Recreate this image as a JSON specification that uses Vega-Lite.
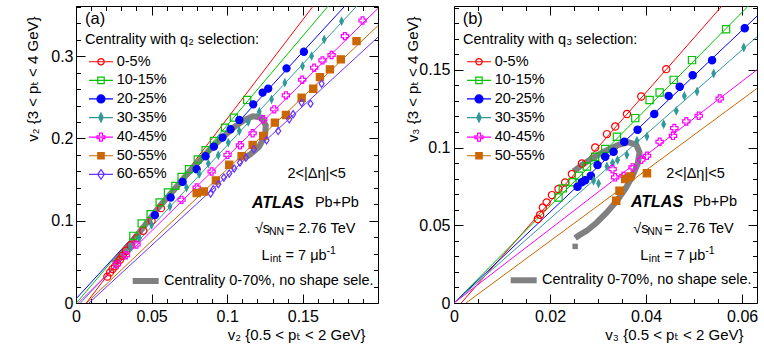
{
  "$schema": "https://vega.github.io/schema/vega-lite/v6.json",
  "background": "white",
  "padding": {"left": 24, "top": 5, "right": 2, "bottom": 2},
  "config": {
    "font": "Liberation Sans",
    "view": {"stroke": "black", "strokeWidth": 1},
    "axis": {"domain": false, "grid": false, "labelFont": "Liberation Sans", "labelFontSize": 16, "labelColor": "black", "tickColor": "black", "tickWidth": 1, "titleFont": "Liberation Sans, DejaVu Sans", "titleFontWeight": "normal", "titleFontSize": 15, "titleColor": "black", "labelFlush": false, "labelOverlap": false},
    "legend": {"labelFont": "Liberation Sans", "titleFont": "Liberation Sans, DejaVu Sans", "labelColor": "black", "titleColor": "black", "titleFontWeight": "normal", "labelLimit": 0, "titleLimit": 0}
  },
  "datasets": {
    "la": [
      {"c": "0-5%", "x": 0.0068, "y": 0}, {"c": "0-5%", "x": 0.1569, "y": 0.361},
      {"c": "10-15%", "x": 0.0003, "y": 0}, {"c": "10-15%", "x": 0.1668, "y": 0.361},
      {"c": "20-25%", "x": 0, "y": 0.005}, {"c": "20-25%", "x": 0.1778, "y": 0.361},
      {"c": "30-35%", "x": 0.003, "y": 0}, {"c": "30-35%", "x": 0.1857, "y": 0.361},
      {"c": "40-45%", "x": 0.0015, "y": 0}, {"c": "40-45%", "x": 0.1996, "y": 0.358},
      {"c": "50-55%", "x": 0.007, "y": 0}, {"c": "50-55%", "x": 0.1996, "y": 0.337},
      {"c": "60-65%", "x": 0.0086, "y": 0}, {"c": "60-65%", "x": 0.1996, "y": 0.323}
    ],
    "pa": [
      {"c": "0-5%", "x": 0.0207, "y": 0.032}, {"c": "0-5%", "x": 0.0225, "y": 0.0372}, {"c": "0-5%", "x": 0.0242, "y": 0.0413}, {"c": "0-5%", "x": 0.0258, "y": 0.0445}, {"c": "0-5%", "x": 0.0273, "y": 0.0481}, {"c": "0-5%", "x": 0.0291, "y": 0.0526}, {"c": "0-5%", "x": 0.0308, "y": 0.0574}, {"c": "0-5%", "x": 0.033, "y": 0.0635}, {"c": "0-5%", "x": 0.0361, "y": 0.0704}, {"c": "0-5%", "x": 0.0401, "y": 0.0789}, {"c": "0-5%", "x": 0.0445, "y": 0.0878}, {"c": "0-5%", "x": 0.05, "y": 0.0999}, {"c": "0-5%", "x": 0.0562, "y": 0.1153},
      {"c": "10-15%", "x": 0.0379, "y": 0.0817}, {"c": "10-15%", "x": 0.0434, "y": 0.0967}, {"c": "10-15%", "x": 0.0493, "y": 0.108}, {"c": "10-15%", "x": 0.0553, "y": 0.1222}, {"c": "10-15%", "x": 0.0608, "y": 0.1343}, {"c": "10-15%", "x": 0.0657, "y": 0.1424}, {"c": "10-15%", "x": 0.0698, "y": 0.1533}, {"c": "10-15%", "x": 0.0747, "y": 0.1626}, {"c": "10-15%", "x": 0.0805, "y": 0.1745}, {"c": "10-15%", "x": 0.0857, "y": 0.1857}, {"c": "10-15%", "x": 0.0912, "y": 0.197}, {"c": "10-15%", "x": 0.0985, "y": 0.2132}, {"c": "10-15%", "x": 0.1044, "y": 0.2253}, {"c": "10-15%", "x": 0.1132, "y": 0.2468},
      {"c": "20-25%", "x": 0.0522, "y": 0.1068}, {"c": "20-25%", "x": 0.0626, "y": 0.1282}, {"c": "20-25%", "x": 0.0705, "y": 0.1472}, {"c": "20-25%", "x": 0.0798, "y": 0.1626}, {"c": "20-25%", "x": 0.0857, "y": 0.1784}, {"c": "20-25%", "x": 0.0912, "y": 0.1901}, {"c": "20-25%", "x": 0.0969, "y": 0.2011}, {"c": "20-25%", "x": 0.1022, "y": 0.2112}, {"c": "20-25%", "x": 0.108, "y": 0.2225}, {"c": "20-25%", "x": 0.1172, "y": 0.2415}, {"c": "20-25%", "x": 0.1234, "y": 0.2557}, {"c": "20-25%", "x": 0.1271, "y": 0.2605}, {"c": "20-25%", "x": 0.1392, "y": 0.2852}, {"c": "20-25%", "x": 0.1507, "y": 0.3054},
      {"c": "30-35%", "x": 0.036, "y": 0.067}, {"c": "30-35%", "x": 0.042, "y": 0.079}, {"c": "30-35%", "x": 0.05, "y": 0.095}, {"c": "30-35%", "x": 0.0621, "y": 0.1173}, {"c": "30-35%", "x": 0.0731, "y": 0.1404}, {"c": "30-35%", "x": 0.0815, "y": 0.1566}, {"c": "30-35%", "x": 0.0875, "y": 0.1695}, {"c": "30-35%", "x": 0.0941, "y": 0.1796}, {"c": "30-35%", "x": 0.1007, "y": 0.195}, {"c": "30-35%", "x": 0.108, "y": 0.2091}, {"c": "30-35%", "x": 0.1139, "y": 0.2201}, {"c": "30-35%", "x": 0.1212, "y": 0.2326}, {"c": "30-35%", "x": 0.1293, "y": 0.2476}, {"c": "30-35%", "x": 0.1381, "y": 0.2678}, {"c": "30-35%", "x": 0.1498, "y": 0.288}, {"c": "30-35%", "x": 0.1558, "y": 0.3001}, {"c": "30-35%", "x": 0.1641, "y": 0.3204}, {"c": "30-35%", "x": 0.1756, "y": 0.3426},
      {"c": "40-45%", "x": 0.027, "y": 0.047}, {"c": "40-45%", "x": 0.033, "y": 0.058}, {"c": "40-45%", "x": 0.04, "y": 0.071}, {"c": "40-45%", "x": 0.0698, "y": 0.1254}, {"c": "40-45%", "x": 0.0798, "y": 0.1404}, {"c": "40-45%", "x": 0.0897, "y": 0.1598}, {"c": "40-45%", "x": 0.1002, "y": 0.18}, {"c": "40-45%", "x": 0.1084, "y": 0.1917}, {"c": "40-45%", "x": 0.1168, "y": 0.2063}, {"c": "40-45%", "x": 0.1238, "y": 0.2233}, {"c": "40-45%", "x": 0.1311, "y": 0.2354}, {"c": "40-45%", "x": 0.1388, "y": 0.2524}, {"c": "40-45%", "x": 0.1496, "y": 0.2714}, {"c": "40-45%", "x": 0.1575, "y": 0.286}, {"c": "40-45%", "x": 0.163, "y": 0.2949}, {"c": "40-45%", "x": 0.169, "y": 0.3014}, {"c": "40-45%", "x": 0.1778, "y": 0.3244}, {"c": "40-45%", "x": 0.1895, "y": 0.3434},
      {"c": "50-55%", "x": 0.0798, "y": 0.1335}, {"c": "50-55%", "x": 0.0845, "y": 0.1355}, {"c": "50-55%", "x": 0.0925, "y": 0.149}, {"c": "50-55%", "x": 0.1013, "y": 0.168}, {"c": "50-55%", "x": 0.1095, "y": 0.1784}, {"c": "50-55%", "x": 0.1168, "y": 0.1922}, {"c": "50-55%", "x": 0.1238, "y": 0.2031}, {"c": "50-55%", "x": 0.1315, "y": 0.2192}, {"c": "50-55%", "x": 0.1388, "y": 0.2285}, {"c": "50-55%", "x": 0.1492, "y": 0.2495}, {"c": "50-55%", "x": 0.1569, "y": 0.2604}, {"c": "50-55%", "x": 0.1613, "y": 0.2746}, {"c": "50-55%", "x": 0.1679, "y": 0.284}, {"c": "50-55%", "x": 0.1751, "y": 0.2961}, {"c": "50-55%", "x": 0.1855, "y": 0.3183},
      {"c": "60-65%", "x": 0.089, "y": 0.1331}, {"c": "60-65%", "x": 0.0908, "y": 0.1383}, {"c": "60-65%", "x": 0.0941, "y": 0.1444}, {"c": "60-65%", "x": 0.0978, "y": 0.1525}, {"c": "60-65%", "x": 0.1013, "y": 0.1574}, {"c": "60-65%", "x": 0.1046, "y": 0.1634}, {"c": "60-65%", "x": 0.1084, "y": 0.1707}, {"c": "60-65%", "x": 0.1124, "y": 0.1768}, {"c": "60-65%", "x": 0.1176, "y": 0.1869}, {"c": "60-65%", "x": 0.126, "y": 0.1978}, {"c": "60-65%", "x": 0.1337, "y": 0.2091}, {"c": "60-65%", "x": 0.141, "y": 0.2233}, {"c": "60-65%", "x": 0.1436, "y": 0.2294}, {"c": "60-65%", "x": 0.1492, "y": 0.2435}, {"c": "60-65%", "x": 0.1551, "y": 0.2423}, {"c": "60-65%", "x": 0.1624, "y": 0.2666}
    ],
    "ga": [
      {"g": "Centrality 0-70%, no shape sele.", "o": 1, "x": 0.025, "y": 0.048}, {"g": "Centrality 0-70%, no shape sele.", "o": 2, "x": 0.035, "y": 0.07}, {"g": "Centrality 0-70%, no shape sele.", "o": 3, "x": 0.045, "y": 0.093}, {"g": "Centrality 0-70%, no shape sele.", "o": 4, "x": 0.055, "y": 0.117}, {"g": "Centrality 0-70%, no shape sele.", "o": 5, "x": 0.065, "y": 0.138}, {"g": "Centrality 0-70%, no shape sele.", "o": 6, "x": 0.075, "y": 0.16}, {"g": "Centrality 0-70%, no shape sele.", "o": 7, "x": 0.085, "y": 0.18}, {"g": "Centrality 0-70%, no shape sele.", "o": 8, "x": 0.095, "y": 0.198}, {"g": "Centrality 0-70%, no shape sele.", "o": 9, "x": 0.104, "y": 0.213}, {"g": "Centrality 0-70%, no shape sele.", "o": 10, "x": 0.111, "y": 0.222}, {"g": "Centrality 0-70%, no shape sele.", "o": 11, "x": 0.117, "y": 0.227}, {"g": "Centrality 0-70%, no shape sele.", "o": 12, "x": 0.1225, "y": 0.2255}, {"g": "Centrality 0-70%, no shape sele.", "o": 13, "x": 0.1255, "y": 0.216}, {"g": "Centrality 0-70%, no shape sele.", "o": 14, "x": 0.125, "y": 0.203}, {"g": "Centrality 0-70%, no shape sele.", "o": 15, "x": 0.121, "y": 0.19}, {"g": "Centrality 0-70%, no shape sele.", "o": 16, "x": 0.1155, "y": 0.181}, {"g": "Centrality 0-70%, no shape sele.", "o": 17, "x": 0.112, "y": 0.177}
    ],
    "lb": [
      {"c": "0-5%", "x": 0.0015, "y": 0}, {"c": "0-5%", "x": 0.0558, "y": 0.191},
      {"c": "10-15%", "x": 0, "y": 0}, {"c": "10-15%", "x": 0.0613, "y": 0.191},
      {"c": "20-25%", "x": 0, "y": 0}, {"c": "20-25%", "x": 0.0631, "y": 0.1845},
      {"c": "30-35%", "x": 0, "y": 0}, {"c": "30-35%", "x": 0.0631, "y": 0.1712},
      {"c": "40-45%", "x": 0, "y": 0}, {"c": "40-45%", "x": 0.0631, "y": 0.15},
      {"c": "50-55%", "x": 0.0025, "y": 0}, {"c": "50-55%", "x": 0.0631, "y": 0.138}
    ],
    "pb": [
      {"c": "0-5%", "x": 0.01746, "y": 0.054}, {"c": "0-5%", "x": 0.01794, "y": 0.0567}, {"c": "0-5%", "x": 0.0185, "y": 0.0614}, {"c": "0-5%", "x": 0.0193, "y": 0.0647}, {"c": "0-5%", "x": 0.0204, "y": 0.0694}, {"c": "0-5%", "x": 0.02175, "y": 0.0733}, {"c": "0-5%", "x": 0.02315, "y": 0.0775}, {"c": "0-5%", "x": 0.02455, "y": 0.0829}, {"c": "0-5%", "x": 0.02663, "y": 0.0897}, {"c": "0-5%", "x": 0.0294, "y": 0.1}, {"c": "0-5%", "x": 0.03185, "y": 0.1086}, {"c": "0-5%", "x": 0.03358, "y": 0.1135}, {"c": "0-5%", "x": 0.03602, "y": 0.1215}, {"c": "0-5%", "x": 0.039, "y": 0.1328}, {"c": "0-5%", "x": 0.0442, "y": 0.1504},
      {"c": "10-15%", "x": 0.02176, "y": 0.0679}, {"c": "10-15%", "x": 0.02266, "y": 0.0737}, {"c": "10-15%", "x": 0.02468, "y": 0.0776}, {"c": "10-15%", "x": 0.026, "y": 0.0818}, {"c": "10-15%", "x": 0.02767, "y": 0.0878}, {"c": "10-15%", "x": 0.0294, "y": 0.094}, {"c": "10-15%", "x": 0.03149, "y": 0.099}, {"c": "10-15%", "x": 0.03392, "y": 0.1069}, {"c": "10-15%", "x": 0.03775, "y": 0.1189}, {"c": "10-15%", "x": 0.04074, "y": 0.1305}, {"c": "10-15%", "x": 0.04282, "y": 0.1354}, {"c": "10-15%", "x": 0.04574, "y": 0.1435}, {"c": "10-15%", "x": 0.04957, "y": 0.1562}, {"c": "10-15%", "x": 0.05666, "y": 0.1761},
      {"c": "20-25%", "x": 0.02572, "y": 0.0748}, {"c": "20-25%", "x": 0.02662, "y": 0.0776}, {"c": "20-25%", "x": 0.02732, "y": 0.079}, {"c": "20-25%", "x": 0.0285, "y": 0.0818}, {"c": "20-25%", "x": 0.02989, "y": 0.0887}, {"c": "20-25%", "x": 0.03149, "y": 0.094}, {"c": "20-25%", "x": 0.03323, "y": 0.0973}, {"c": "20-25%", "x": 0.03545, "y": 0.1037}, {"c": "20-25%", "x": 0.03823, "y": 0.1114}, {"c": "20-25%", "x": 0.04171, "y": 0.1215}, {"c": "20-25%", "x": 0.0447, "y": 0.1332}, {"c": "20-25%", "x": 0.047, "y": 0.139}, {"c": "20-25%", "x": 0.0497, "y": 0.1465}, {"c": "20-25%", "x": 0.05374, "y": 0.1561}, {"c": "20-25%", "x": 0.06055, "y": 0.1767},
      {"c": "30-35%", "x": 0.02906, "y": 0.0786}, {"c": "30-35%", "x": 0.0301, "y": 0.0769}, {"c": "30-35%", "x": 0.03184, "y": 0.0878}, {"c": "30-35%", "x": 0.03302, "y": 0.09}, {"c": "30-35%", "x": 0.03406, "y": 0.0919}, {"c": "30-35%", "x": 0.036, "y": 0.0953}, {"c": "30-35%", "x": 0.0381, "y": 0.1043}, {"c": "30-35%", "x": 0.04018, "y": 0.1071}, {"c": "30-35%", "x": 0.04366, "y": 0.115}, {"c": "30-35%", "x": 0.0463, "y": 0.1236}, {"c": "30-35%", "x": 0.04797, "y": 0.1332}, {"c": "30-35%", "x": 0.05061, "y": 0.136}, {"c": "30-35%", "x": 0.05408, "y": 0.1476}, {"c": "30-35%", "x": 0.06034, "y": 0.1643},
      {"c": "40-45%", "x": 0.03302, "y": 0.0861}, {"c": "40-45%", "x": 0.03357, "y": 0.0808}, {"c": "40-45%", "x": 0.03531, "y": 0.0818}, {"c": "40-45%", "x": 0.03719, "y": 0.0872}, {"c": "40-45%", "x": 0.039, "y": 0.0921}, {"c": "40-45%", "x": 0.04018, "y": 0.0947}, {"c": "40-45%", "x": 0.04282, "y": 0.1037}, {"c": "40-45%", "x": 0.0456, "y": 0.1075}, {"c": "40-45%", "x": 0.04588, "y": 0.1125}, {"c": "40-45%", "x": 0.04838, "y": 0.1168}, {"c": "40-45%", "x": 0.05096, "y": 0.1204}, {"c": "40-45%", "x": 0.05534, "y": 0.1315},
      {"c": "50-55%", "x": 0.03378, "y": 0.0658}, {"c": "50-55%", "x": 0.03448, "y": 0.0722}, {"c": "50-55%", "x": 0.03566, "y": 0.0797}, {"c": "50-55%", "x": 0.0367, "y": 0.0814}, {"c": "50-55%", "x": 0.04018, "y": 0.0835}
    ],
    "gb": [
      {"g": "Centrality 0-70%, no shape sele.", "o": 1, "x": 0.02489, "y": 0.0846}, {"g": "Centrality 0-70%, no shape sele.", "o": 2, "x": 0.02663, "y": 0.0887}, {"g": "Centrality 0-70%, no shape sele.", "o": 3, "x": 0.02906, "y": 0.0936}, {"g": "Centrality 0-70%, no shape sele.", "o": 4, "x": 0.03184, "y": 0.0983}, {"g": "Centrality 0-70%, no shape sele.", "o": 5, "x": 0.03427, "y": 0.1018}, {"g": "Centrality 0-70%, no shape sele.", "o": 6, "x": 0.03636, "y": 0.1033}, {"g": "Centrality 0-70%, no shape sele.", "o": 7, "x": 0.03796, "y": 0.1018}, {"g": "Centrality 0-70%, no shape sele.", "o": 8, "x": 0.03865, "y": 0.0968}, {"g": "Centrality 0-70%, no shape sele.", "o": 9, "x": 0.03823, "y": 0.0893}, {"g": "Centrality 0-70%, no shape sele.", "o": 10, "x": 0.03705, "y": 0.0808}, {"g": "Centrality 0-70%, no shape sele.", "o": 11, "x": 0.03566, "y": 0.0733}, {"g": "Centrality 0-70%, no shape sele.", "o": 12, "x": 0.03392, "y": 0.0658}, {"g": "Centrality 0-70%, no shape sele.", "o": 13, "x": 0.03184, "y": 0.0583}, {"g": "Centrality 0-70%, no shape sele.", "o": 14, "x": 0.02975, "y": 0.0518}, {"g": "Centrality 0-70%, no shape sele.", "o": 15, "x": 0.02767, "y": 0.0465}, {"g": "Centrality 0-70%, no shape sele.", "o": 16, "x": 0.02593, "y": 0.0433}, {"g": "Centrality 0-70%, no shape sele.", "o": 17, "x": 0.02523, "y": 0.0418}
    ],
    "gbp": [{"x": 0.02523, "y": 0.0364}]
  },
  "hconcat": [
    {
      "width": 302, "height": 297,
      "resolve": {"axis": {"x": "independent", "y": "independent"}, "scale": {"stroke": "independent"}},
      "layer": [
        {
          "data": {"name": "la"},
          "mark": {"type": "line", "clip": true, "strokeWidth": 1},
          "encoding": {
            "x": {"field": "x", "type": "quantitative", "scale": {"domain": [0, 0.1997], "nice": false, "zero": false},
                  "axis": {"orient": "bottom", "values": [0, 0.05, 0.1, 0.15], "format": "~g", "tickSize": -9, "labelPadding": 14, "title": "v₂ {0.5 < pₜ < 2 GeV}", "titleX": 289, "titleY": 31, "titleAlign": "right", "titleBaseline": "middle", "titleAnchor": null}},
            "y": {"field": "y", "type": "quantitative", "scale": {"domain": [0, 0.361], "nice": false, "zero": false},
                  "axis": {"orient": "left", "values": [0, 0.1, 0.2, 0.3], "format": "~g", "tickSize": -9, "labelPadding": 12, "title": "v₂ {3 < pₜ < 4 GeV}", "titleAngle": -90, "titleX": -44, "titleY": 10, "titleAlign": "right", "titleBaseline": "middle", "titleAnchor": null}},
            "stroke": {"field": "c", "type": "nominal",
              "scale": {"domain": ["0-5%", "10-15%", "20-25%", "30-35%", "40-45%", "50-55%", "60-65%"], "range": ["#ff0000", "#00c400", "#0000ff", "#339999", "#ff00ff", "#cc6600", "#6633ff"]},
              "legend": {"orient": "none", "legendX": 9, "legendY": 27, "padding": 0, "title": "Centrality with q₂ selection:", "titleFontSize": 14.5, "titlePadding": 7, "labelFontSize": 14.5, "labelOffset": 17.2, "symbolSize": 64, "symbolStrokeWidth": 1.2, "rowPadding": 3.6,
                "encode": {"symbols": {"update": {
                  "x": {"value": 16},
                  "shape": {"signal": "['M-3,0L3,0M0.8,0A0.8,0.8,0,1,1,-0.8,0A0.8,0.8,0,1,1,0.8,0Z','M-3,0L3,0M-0.8,-0.8L0.8,-0.8L0.8,0.8L-0.8,0.8Z','M-3,0L3,0M1,0A1,1,0,1,1,-1,0A1,1,0,1,1,1,0Z','M-3,0L3,0M0,-1.15L0.55,0L0,1.15L-0.55,0Z','M-3,0L3,0M-0.35,-1L0.35,-1L0.35,-0.35L1,-0.35L1,0.35L0.35,0.35L0.35,1L-0.35,1L-0.35,0.35L-1,0.35L-1,-0.35L-0.35,-0.35Z','M-3,0L3,0M-0.8,-0.8L0.8,-0.8L0.8,0.8L-0.8,0.8Z','M-3,0L3,0M0,-1.2L0.85,0L0,1.2L-0.85,0Z'][indexof(['0-5%','10-15%','20-25%','30-35%','40-45%','50-55%','60-65%'], datum.value)]"},
                  "fill": {"signal": "['transparent','transparent','#0000ff','#339999','transparent','#cc6600','transparent'][indexof(['0-5%','10-15%','20-25%','30-35%','40-45%','50-55%','60-65%'], datum.value)]"}
                }}}}
            }
          }
        },
        {
          "data": {"name": "ga"},
          "mark": {"type": "line", "clip": true, "strokeWidth": 6, "strokeJoin": "round"},
          "encoding": {
            "x": {"field": "x", "type": "quantitative", "scale": {"domain": [0, 0.1997], "nice": false, "zero": false},
                  "axis": {"orient": "top", "values": [0, 0.05, 0.1, 0.15], "tickSize": -9, "labels": false, "title": null}},
            "y": {"field": "y", "type": "quantitative", "scale": {"domain": [0, 0.361], "nice": false, "zero": false},
                  "axis": {"orient": "right", "values": [0, 0.1, 0.2, 0.3], "tickSize": -9, "labels": false, "title": null}},
            "order": {"field": "o", "type": "quantitative"},
            "color": {"field": "g", "type": "nominal", "scale": {"range": ["#808080"]},
              "legend": {"orient": "none", "legendX": 53.7, "legendY": 259, "padding": 0, "title": null, "symbolType": "stroke", "symbolSize": 676, "symbolStrokeWidth": 6, "labelFontSize": 14.5, "labelOffset": 2.3}}
          }
        },
        {
          "data": {"name": "pa"},
          "mark": {"type": "point", "filled": true, "strokeWidth": 1.2, "clip": true, "opacity": 1},
          "encoding": {
            "x": {"field": "x", "type": "quantitative", "scale": {"domain": [0, 0.1997], "nice": false, "zero": false},
                  "axis": {"orient": "bottom", "values": [0.01, 0.02, 0.03, 0.04, 0.06, 0.07, 0.08, 0.09, 0.11, 0.12, 0.13, 0.14, 0.16, 0.17, 0.18, 0.19], "tickSize": -4.5, "labels": false, "title": null}},
            "y": {"field": "y", "type": "quantitative", "scale": {"domain": [0, 0.361], "nice": false, "zero": false},
                  "axis": {"orient": "left", "values": [0.02, 0.04, 0.06, 0.08, 0.12, 0.14, 0.16, 0.18, 0.22, 0.24, 0.26, 0.28, 0.32, 0.34, 0.36], "tickSize": -4.5, "labels": false, "title": null}},
            "stroke": {"field": "c", "type": "nominal", "legend": null,
              "scale": {"domain": ["0-5%", "10-15%", "20-25%", "30-35%", "40-45%", "50-55%", "60-65%"], "range": ["#ff0000", "#00c400", "#0000ff", "#339999", "#ff00ff", "#cc6600", "#6633ff"]}},
            "fill": {"field": "c", "type": "nominal", "legend": null,
              "scale": {"domain": ["0-5%", "10-15%", "20-25%", "30-35%", "40-45%", "50-55%", "60-65%"], "range": ["transparent", "transparent", "#0000ff", "#339999", "transparent", "#cc6600", "transparent"]}},
            "shape": {"field": "c", "type": "nominal", "legend": null,
              "scale": {"domain": ["0-5%", "10-15%", "20-25%", "30-35%", "40-45%", "50-55%", "60-65%"], "range": ["circle", "square", "circle", "M0,-1L0.5,0L0,1L-0.5,0Z", "cross", "square", "M0,-1L0.7,0L0,1L-0.7,0Z"]}},
            "size": {"field": "c", "type": "ordinal", "legend": null,
              "scale": {"domain": ["0-5%", "10-15%", "20-25%", "30-35%", "40-45%", "50-55%", "60-65%"], "range": [50, 52, 72, 100, 80, 52, 110]}}
          }
        },
        {
          "data": {"values": [{}]},
          "mark": {"type": "text", "text": "(a)", "align": "left", "baseline": "middle", "fontSize": 16.5, "color": "black"},
          "encoding": {
            "x": {"datum": 0.006, "type": "quantitative", "scale": {"domain": [0, 0.1997], "nice": false, "zero": false},
                  "axis": {"orient": "top", "values": [0.01, 0.02, 0.03, 0.04, 0.06, 0.07, 0.08, 0.09, 0.11, 0.12, 0.13, 0.14, 0.16, 0.17, 0.18, 0.19], "tickSize": -4.5, "labels": false, "title": null}},
            "y": {"datum": 0.345, "type": "quantitative", "scale": {"domain": [0, 0.361], "nice": false, "zero": false},
                  "axis": {"orient": "right", "values": [0.02, 0.04, 0.06, 0.08, 0.12, 0.14, 0.16, 0.18, 0.22, 0.24, 0.26, 0.28, 0.32, 0.34, 0.36], "tickSize": -4.5, "labels": false, "title": null}}
          }
        },
        {"data": {"values": [{}]}, "mark": {"type": "text", "text": "2<|Δη|<5", "align": "center", "baseline": "middle", "fontSize": 14.5, "color": "black"},
         "encoding": {"x": {"datum": 0.1591, "type": "quantitative", "axis": null}, "y": {"datum": 0.1566, "type": "quantitative", "axis": null}}},
        {"data": {"values": [{}]}, "mark": {"type": "text", "text": "ATLAS", "align": "left", "baseline": "middle", "fontSize": 16, "fontWeight": "bold", "fontStyle": "italic", "color": "black"},
         "encoding": {"x": {"datum": 0.1163, "type": "quantitative", "axis": null}, "y": {"datum": 0.1221, "type": "quantitative", "axis": null}}},
        {"data": {"values": [{}]}, "mark": {"type": "text", "text": "Pb+Pb", "align": "left", "baseline": "middle", "fontSize": 14.5, "color": "black"},
         "encoding": {"x": {"datum": 0.158, "type": "quantitative", "axis": null}, "y": {"datum": 0.1221, "type": "quantitative", "axis": null}}},
        {"data": {"values": [{}]}, "mark": {"type": "text", "text": "√s", "align": "left", "baseline": "middle", "fontSize": 14.5, "color": "black"},
         "encoding": {"x": {"datum": 0.1183, "type": "quantitative", "axis": null}, "y": {"datum": 0.0902, "type": "quantitative", "axis": null}}},
        {"data": {"values": [{}]}, "mark": {"type": "text", "text": "NN", "align": "left", "baseline": "middle", "fontSize": 10.5, "dx": 14, "dy": 3.5, "color": "black"},
         "encoding": {"x": {"datum": 0.1183, "type": "quantitative", "axis": null}, "y": {"datum": 0.0902, "type": "quantitative", "axis": null}}},
        {"data": {"values": [{}]}, "mark": {"type": "text", "text": "= 2.76 TeV", "align": "left", "baseline": "middle", "fontSize": 14.5, "dx": 31, "color": "black"},
         "encoding": {"x": {"datum": 0.1183, "type": "quantitative", "axis": null}, "y": {"datum": 0.0902, "type": "quantitative", "axis": null}}},
        {"data": {"values": [{}]}, "mark": {"type": "text", "text": "L", "align": "left", "baseline": "middle", "fontSize": 14.5, "color": "black"},
         "encoding": {"x": {"datum": 0.1227, "type": "quantitative", "axis": null}, "y": {"datum": 0.0574, "type": "quantitative", "axis": null}}},
        {"data": {"values": [{}]}, "mark": {"type": "text", "text": "int", "align": "left", "baseline": "middle", "fontSize": 10.5, "dx": 8.5, "dy": 3.5, "color": "black"},
         "encoding": {"x": {"datum": 0.1227, "type": "quantitative", "axis": null}, "y": {"datum": 0.0574, "type": "quantitative", "axis": null}}},
        {"data": {"values": [{}]}, "mark": {"type": "text", "text": "= 7 μb", "align": "left", "baseline": "middle", "fontSize": 14.5, "dx": 24, "color": "black"},
         "encoding": {"x": {"datum": 0.1227, "type": "quantitative", "axis": null}, "y": {"datum": 0.0574, "type": "quantitative", "axis": null}}},
        {"data": {"values": [{}]}, "mark": {"type": "text", "text": "-1", "align": "left", "baseline": "middle", "fontSize": 10.5, "dx": 65, "dy": -5, "color": "black"},
         "encoding": {"x": {"datum": 0.1227, "type": "quantitative", "axis": null}, "y": {"datum": 0.0574, "type": "quantitative", "axis": null}}}
      ]
    },
    {
      "width": 303, "height": 297,
      "resolve": {"axis": {"x": "independent", "y": "independent"}, "scale": {"stroke": "independent"}},
      "layer": [
        {
          "data": {"name": "lb"},
          "mark": {"type": "line", "clip": true, "strokeWidth": 1},
          "encoding": {
            "x": {"field": "x", "type": "quantitative", "scale": {"domain": [0, 0.0631], "nice": false, "zero": false},
                  "axis": {"orient": "bottom", "values": [0, 0.02, 0.04, 0.06], "format": "~g", "tickSize": -9, "labelPadding": 14, "title": "v₃ {0.5 < pₜ < 2 GeV}", "titleX": 289, "titleY": 31, "titleAlign": "right", "titleBaseline": "middle", "titleAnchor": null}},
            "y": {"field": "y", "type": "quantitative", "scale": {"domain": [0, 0.191], "nice": false, "zero": false},
                  "axis": {"orient": "left", "values": [0, 0.05, 0.1, 0.15], "format": "~g", "tickSize": -9, "labelPadding": 13, "title": "v₃ {3 < pₜ < 4 GeV}", "titleAngle": -90, "titleX": -42, "titleY": 10, "titleAlign": "right", "titleBaseline": "middle", "titleAnchor": null}},
            "stroke": {"field": "c", "type": "nominal",
              "scale": {"domain": ["0-5%", "10-15%", "20-25%", "30-35%", "40-45%", "50-55%"], "range": ["#ff0000", "#00c400", "#0000ff", "#339999", "#ff00ff", "#cc6600"]},
              "legend": {"orient": "none", "legendX": 9, "legendY": 27, "padding": 0, "title": "Centrality with q₃ selection:", "titleFontSize": 14.5, "titlePadding": 7, "labelFontSize": 14.5, "labelOffset": 17.2, "symbolSize": 64, "symbolStrokeWidth": 1.2, "rowPadding": 3.6,
                "encode": {"symbols": {"update": {
                  "x": {"value": 16},
                  "shape": {"signal": "['M-3,0L3,0M0.8,0A0.8,0.8,0,1,1,-0.8,0A0.8,0.8,0,1,1,0.8,0Z','M-3,0L3,0M-0.8,-0.8L0.8,-0.8L0.8,0.8L-0.8,0.8Z','M-3,0L3,0M1,0A1,1,0,1,1,-1,0A1,1,0,1,1,1,0Z','M-3,0L3,0M0,-1.15L0.55,0L0,1.15L-0.55,0Z','M-3,0L3,0M-0.35,-1L0.35,-1L0.35,-0.35L1,-0.35L1,0.35L0.35,0.35L0.35,1L-0.35,1L-0.35,0.35L-1,0.35L-1,-0.35L-0.35,-0.35Z','M-3,0L3,0M-0.8,-0.8L0.8,-0.8L0.8,0.8L-0.8,0.8Z'][indexof(['0-5%','10-15%','20-25%','30-35%','40-45%','50-55%'], datum.value)]"},
                  "fill": {"signal": "['transparent','transparent','#0000ff','#339999','transparent','#cc6600'][indexof(['0-5%','10-15%','20-25%','30-35%','40-45%','50-55%'], datum.value)]"}
                }}}}
            }
          }
        },
        {
          "data": {"name": "gb"},
          "mark": {"type": "line", "clip": true, "strokeWidth": 6, "strokeJoin": "round"},
          "encoding": {
            "x": {"field": "x", "type": "quantitative", "scale": {"domain": [0, 0.0631], "nice": false, "zero": false},
                  "axis": {"orient": "top", "values": [0, 0.02, 0.04, 0.06], "tickSize": -9, "labels": false, "title": null}},
            "y": {"field": "y", "type": "quantitative", "scale": {"domain": [0, 0.191], "nice": false, "zero": false},
                  "axis": {"orient": "right", "values": [0, 0.05, 0.1, 0.15], "tickSize": -9, "labels": false, "title": null}},
            "order": {"field": "o", "type": "quantitative"},
            "color": {"field": "g", "type": "nominal", "scale": {"range": ["#808080"]},
              "legend": {"orient": "none", "legendX": 53.7, "legendY": 258.3, "padding": 0, "title": null, "symbolType": "stroke", "symbolSize": 676, "symbolStrokeWidth": 6, "labelFontSize": 14.5, "labelOffset": 2.3}}
          }
        },
        {
          "data": {"name": "gbp"},
          "mark": {"type": "square", "color": "#808080", "size": 30, "opacity": 1, "clip": true},
          "encoding": {
            "x": {"field": "x", "type": "quantitative", "scale": {"domain": [0, 0.0631], "nice": false, "zero": false}, "axis": null},
            "y": {"field": "y", "type": "quantitative", "scale": {"domain": [0, 0.191], "nice": false, "zero": false}, "axis": null}
          }
        },
        {
          "data": {"name": "pb"},
          "mark": {"type": "point", "filled": true, "strokeWidth": 1.2, "clip": true, "opacity": 1},
          "encoding": {
            "x": {"field": "x", "type": "quantitative", "scale": {"domain": [0, 0.0631], "nice": false, "zero": false},
                  "axis": {"orient": "bottom", "values": [0.005, 0.01, 0.015, 0.025, 0.03, 0.035, 0.045, 0.05, 0.055], "tickSize": -4.5, "labels": false, "title": null}},
            "y": {"field": "y", "type": "quantitative", "scale": {"domain": [0, 0.191], "nice": false, "zero": false},
                  "axis": {"orient": "left", "values": [0.01, 0.02, 0.03, 0.04, 0.06, 0.07, 0.08, 0.09, 0.11, 0.12, 0.13, 0.14, 0.16, 0.17, 0.18, 0.19], "tickSize": -4.5, "labels": false, "title": null}},
            "stroke": {"field": "c", "type": "nominal", "legend": null,
              "scale": {"domain": ["0-5%", "10-15%", "20-25%", "30-35%", "40-45%", "50-55%"], "range": ["#ff0000", "#00c400", "#0000ff", "#339999", "#ff00ff", "#cc6600"]}},
            "fill": {"field": "c", "type": "nominal", "legend": null,
              "scale": {"domain": ["0-5%", "10-15%", "20-25%", "30-35%", "40-45%", "50-55%"], "range": ["transparent", "transparent", "#0000ff", "#339999", "transparent", "#cc6600"]}},
            "shape": {"field": "c", "type": "nominal", "legend": null,
              "scale": {"domain": ["0-5%", "10-15%", "20-25%", "30-35%", "40-45%", "50-55%"], "range": ["circle", "square", "circle", "M0,-1L0.5,0L0,1L-0.5,0Z", "cross", "square"]}},
            "size": {"field": "c", "type": "ordinal", "legend": null,
              "scale": {"domain": ["0-5%", "10-15%", "20-25%", "30-35%", "40-45%", "50-55%"], "range": [52, 54, 64, 100, 80, 52]}}
          }
        },
        {
          "data": {"values": [{}]},
          "mark": {"type": "text", "text": "(b)", "align": "left", "baseline": "middle", "fontSize": 16.5, "color": "black"},
          "encoding": {
            "x": {"datum": 0.0018, "type": "quantitative", "scale": {"domain": [0, 0.0631], "nice": false, "zero": false},
                  "axis": {"orient": "top", "values": [0.005, 0.01, 0.015, 0.025, 0.03, 0.035, 0.045, 0.05, 0.055], "tickSize": -4.5, "labels": false, "title": null}},
            "y": {"datum": 0.1825, "type": "quantitative", "scale": {"domain": [0, 0.191], "nice": false, "zero": false},
                  "axis": {"orient": "right", "values": [0.01, 0.02, 0.03, 0.04, 0.06, 0.07, 0.08, 0.09, 0.11, 0.12, 0.13, 0.14, 0.16, 0.17, 0.18, 0.19], "tickSize": -4.5, "labels": false, "title": null}}
          }
        },
        {"data": {"values": [{}]}, "mark": {"type": "text", "text": "2<|Δη|<5", "align": "center", "baseline": "middle", "fontSize": 14.5, "color": "black"},
         "encoding": {"x": {"datum": 0.0503, "type": "quantitative", "axis": null}, "y": {"datum": 0.0831, "type": "quantitative", "axis": null}}},
        {"data": {"values": [{}]}, "mark": {"type": "text", "text": "ATLAS", "align": "left", "baseline": "middle", "fontSize": 16, "fontWeight": "bold", "fontStyle": "italic", "color": "black"},
         "encoding": {"x": {"datum": 0.03685, "type": "quantitative", "axis": null}, "y": {"datum": 0.0647, "type": "quantitative", "axis": null}}},
        {"data": {"values": [{}]}, "mark": {"type": "text", "text": "Pb+Pb", "align": "left", "baseline": "middle", "fontSize": 14.5, "color": "black"},
         "encoding": {"x": {"datum": 0.0498, "type": "quantitative", "axis": null}, "y": {"datum": 0.0647, "type": "quantitative", "axis": null}}},
        {"data": {"values": [{}]}, "mark": {"type": "text", "text": "√s", "align": "left", "baseline": "middle", "fontSize": 14.5, "color": "black"},
         "encoding": {"x": {"datum": 0.03733, "type": "quantitative", "axis": null}, "y": {"datum": 0.0478, "type": "quantitative", "axis": null}}},
        {"data": {"values": [{}]}, "mark": {"type": "text", "text": "NN", "align": "left", "baseline": "middle", "fontSize": 10.5, "dx": 14, "dy": 3.5, "color": "black"},
         "encoding": {"x": {"datum": 0.03733, "type": "quantitative", "axis": null}, "y": {"datum": 0.0478, "type": "quantitative", "axis": null}}},
        {"data": {"values": [{}]}, "mark": {"type": "text", "text": "= 2.76 TeV", "align": "left", "baseline": "middle", "fontSize": 14.5, "dx": 31, "color": "black"},
         "encoding": {"x": {"datum": 0.03733, "type": "quantitative", "axis": null}, "y": {"datum": 0.0478, "type": "quantitative", "axis": null}}},
        {"data": {"values": [{}]}, "mark": {"type": "text", "text": "L", "align": "left", "baseline": "middle", "fontSize": 14.5, "color": "black"},
         "encoding": {"x": {"datum": 0.0388, "type": "quantitative", "axis": null}, "y": {"datum": 0.0304, "type": "quantitative", "axis": null}}},
        {"data": {"values": [{}]}, "mark": {"type": "text", "text": "int", "align": "left", "baseline": "middle", "fontSize": 10.5, "dx": 8.5, "dy": 3.5, "color": "black"},
         "encoding": {"x": {"datum": 0.0388, "type": "quantitative", "axis": null}, "y": {"datum": 0.0304, "type": "quantitative", "axis": null}}},
        {"data": {"values": [{}]}, "mark": {"type": "text", "text": "= 7 μb", "align": "left", "baseline": "middle", "fontSize": 14.5, "dx": 24, "color": "black"},
         "encoding": {"x": {"datum": 0.0388, "type": "quantitative", "axis": null}, "y": {"datum": 0.0304, "type": "quantitative", "axis": null}}},
        {"data": {"values": [{}]}, "mark": {"type": "text", "text": "-1", "align": "left", "baseline": "middle", "fontSize": 10.5, "dx": 65, "dy": -5, "color": "black"},
         "encoding": {"x": {"datum": 0.0388, "type": "quantitative", "axis": null}, "y": {"datum": 0.0304, "type": "quantitative", "axis": null}}}
      ]
    }
  ],
  "spacing": 76,
  "bounds": "flush",
  "resolve": {"scale": {"stroke": "independent", "fill": "independent", "shape": "independent", "color": "independent", "size": "independent"}}
}
